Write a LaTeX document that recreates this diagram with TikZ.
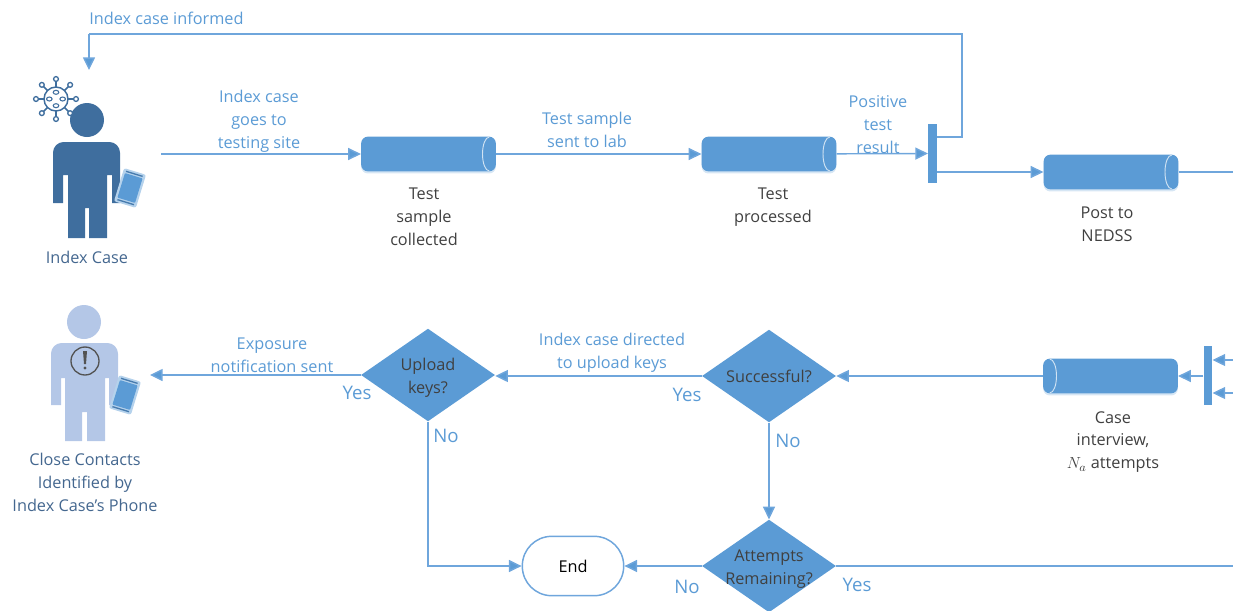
\documentclass[tikz,border=0pt]{standalone}
\usepackage{fontspec}
\setmainfont{Open Sans}
\usetikzlibrary{arrows.meta,shapes.geometric,calc}
\definecolor{flow}{HTML}{5B9BD5}
\definecolor{linec}{HTML}{6FA6DC}
\definecolor{dk}{HTML}{3F6E9E}
\definecolor{lt}{HTML}{B4C7E7}
\definecolor{gr}{HTML}{404040}
\definecolor{nav}{HTML}{44678F}
\tikzset{
 txt/.style={font=\fontsize{12.2}{17.2}\selectfont,align=center,inner sep=0pt,text=gr},
 flowtxt/.style={txt,text=flow},
 navtxt/.style={txt,text=nav},
 yn/.style={font=\fontsize{14}{16}\selectfont,inner sep=0pt,text=flow},
 conn/.style={draw=linec,line width=1.1pt},
 arr/.style={conn,-{Triangle[length=9.5pt,width=9pt,fill=flow]}},
 cyl/.style={shape=rectangle,rounded corners=5pt,draw=none,fill=flow,inner sep=0pt,minimum width=101pt,minimum height=26pt,
   preaction={draw=none,fill=flow!25,transform canvas={yshift=-1.6pt}}},
 capl/.style={white!72!flow,line width=.7pt},
 dia/.style={shape=diamond,fill=flow,inner sep=0pt,minimum width=100.5pt,minimum height=69.5pt},
 barn/.style={shape=rectangle,fill=flow,inner sep=0pt,minimum width=6.4pt,minimum height=44pt},
 endn/.style={shape=rectangle,rounded corners=22pt,draw=linec,line width=1.1pt,fill=white,minimum width=76pt,minimum height=44.5pt,inner sep=0pt,font=\fontsize{12.2}{17.2}\selectfont,text=black},
}
\newcommand{\phoneicon}[3]{%
 \begin{scope}[shift={(#1,#2)},rotate=#3]
  \fill[white!55!flow,rounded corners=1.6pt] (-8.6pt,-13pt) rectangle (8.6pt,13pt);
  \fill[flow,rounded corners=.6pt] (-6.9pt,-9.6pt) rectangle (6.9pt,9.6pt);
  \fill[dk!70!flow] (-6.5pt,10.6pt) rectangle (6.5pt,11.6pt);
  \fill[dk!70!flow] (-6.5pt,-10.6pt) rectangle (6.5pt,-11.6pt);
 \end{scope}}
\begin{document}
\begin{tikzpicture}[x=0.75pt,y=-0.75pt]
\useasboundingbox (0,0) rectangle (1233,611);
% index case figure
\fill[dk] (87,120) circle[radius=17];
\fill[dk] (53,203) [rounded corners=8pt] -- (53,142) -- (120,142) [sharp corners] -- (120,203) -- (112,203) -- (112,175) -- (107,175) -- (107,238) -- (89,238) -- (89,208) -- (85,208) -- (85,238) -- (68,238) -- (68,175) -- (63,175) -- (63,203) -- cycle;
\phoneicon{130}{188}{-17}
% virus
\begin{scope}[shift={(56,99)}]
 \fill[white] (0,0) circle[radius=13];
 \draw[dk,line width=1.1pt] (0,0) circle[radius=12];
 \foreach \a in {0,45,...,315}{
  \draw[dk,line width=1.1pt] (\a:12) -- (\a:18);
  \draw[dk,line width=1pt,fill=white] (\a:20) circle[radius=2.4];
 }
 \draw[dk,line width=.8pt] (0,-6.7) circle[x radius=2.8,y radius=2];
 \draw[dk,line width=.8pt] (0,6.7) circle[x radius=2.8,y radius=2];
 \draw[dk,line width=.8pt] (-6.7,0) circle[x radius=2.8,y radius=2];
 \draw[dk,line width=.8pt] (6.7,0) circle[x radius=2.8,y radius=2];
\end{scope}
\node[navtxt] (lidx) at (87,257) {Index Case};
% contact figure
\fill[lt] (84,322) circle[radius=17];
\fill[lt] (51,405) [rounded corners=8pt] -- (51,343) -- (118,343) [sharp corners] -- (118,405) -- (109,405) -- (109,378) -- (105,378) -- (105,441) -- (87,441) -- (87,412) -- (82,412) -- (82,441) -- (65,441) -- (65,378) -- (61,378) -- (61,405) -- cycle;
\draw[gr!90,line width=1pt] (85,361) circle[radius=14];
\fill[gr!90] (83,351) -- (87,351) -- (86,364) -- (84,364) -- cycle;
\fill[gr!90] (85,368) circle[radius=1.7];
\phoneicon{125}{395}{-17}
\node[navtxt] (lcon) at (85,482) {Close Contacts\\Identified by\\Index Case’s Phone};
% process nodes
\node[cyl] (c1) at (428.5,154) {};
\node[cyl] (c2) at (769,154) {};
\node[cyl] (c3) at (1111,172) {};
\node[cyl] (c4) at (1110.5,376) {};
\draw[capl] ($(c1.east)+(-5.2pt,12.7pt)$) arc[start angle=90,end angle=270,x radius=5pt,y radius=12.7pt];
\draw[capl] ($(c2.east)+(-5.2pt,12.7pt)$) arc[start angle=90,end angle=270,x radius=5pt,y radius=12.7pt];
\draw[capl] ($(c3.east)+(-5.2pt,12.7pt)$) arc[start angle=90,end angle=270,x radius=5pt,y radius=12.7pt];
\draw[capl] ($(c4.west)+(5.2pt,12.7pt)$) arc[start angle=90,end angle=-90,x radius=5pt,y radius=12.7pt];
\node[barn] (b1) at (932.5,153.5) {};
\node[barn] (b2) at (1208,375.5) {};
\node[dia] (d1) at (428,375) {};
\node[dia] (d2) at (769,376) {};
\node[dia] (d3) at (769,566) {};
\node[endn] (en) at (573,566) {End};
% free ends
\coordinate (s0) at (161,154);
\coordinate (r1) at (1233,172);
\coordinate (r2) at (1233,360);
\coordinate (r3) at (1233,393);
\coordinate (r4) at (1233,566);
\coordinate (t0) at (89,70);
\coordinate (cc) at (150,375);
\coordinate (top1) at (962,137);
\coordinate (top2) at (962,34);
\coordinate (top3) at (89,34);
\coordinate (lowc) at (428,566);
% connectors
\draw[arr] (s0) -- (c1.west |- s0);
\draw[arr] (c1) -- (c2);
\draw[arr] (c2) -- (b1);
\draw[arr] (b1.east |- c3) -- (c3);
\draw[conn] (c3) -- (r1);
\draw[conn] (b1.east |- top1) -- (top1) -- (top2) -- (top3);
\draw[arr] (top3) -- (t0);
\draw[arr] (r2) -- (b2.east |- r2);
\draw[arr] (r3) -- (b2.east |- r3);
\draw[arr] (b2.west |- c4) -- (c4);
\draw[arr] (c4) -- (d2);
\draw[arr] (d2) -- (d1.east |- d2);
\draw[arr] (d1) -- (cc);
\draw[arr] (d2) -- (d3);
\draw[arr] (d3) -- (en);
\draw[conn] (d3) -- (r4);
\draw[arr] (d1) -- (lowc) -- (en);
% labels
\node[flowtxt,anchor=west] (l1) at (89,18) {Index case informed};
\node[flowtxt] (l2) at (259,121.5) {Index case\\goes to\\testing site};
\node[flowtxt] (l3) at (587,129.5) {Test sample\\sent to lab};
\node[flowtxt] (l4) at (878,125) {Positive\\test\\result};
\node[txt] (l5) at (424,217) {Test\\sample\\collected};
\node[txt] (l6) at (773,207) {Test\\processed};
\node[txt] (l7) at (1107,224.5) {Post to\\NEDSS};
\node[txt] (l8) at (1113,442) {Case\\interview,\\$N_a$ attempts};
\node[flowtxt] (l9) at (272,355.5) {Exposure\\notification sent};
\node[flowtxt] (l10) at (612,352.5) {Index case directed\\to upload keys};
\node[txt] (l11) at (428,378) {Upload\\keys?};
\node[txt] (l12) at (769,376) {Successful?};
\node[txt] (l13) at (769,569) {Attempts\\Remaining?};
\node[yn] (y1) at (357,393) {Yes};
\node[yn] (n1) at (446,436) {No};
\node[yn] (y2) at (687,395) {Yes};
\node[yn] (n2) at (788,441) {No};
\node[yn] (n3) at (687,587) {No};
\node[yn] (y3) at (857,585) {Yes};
\end{tikzpicture}
\end{document}
